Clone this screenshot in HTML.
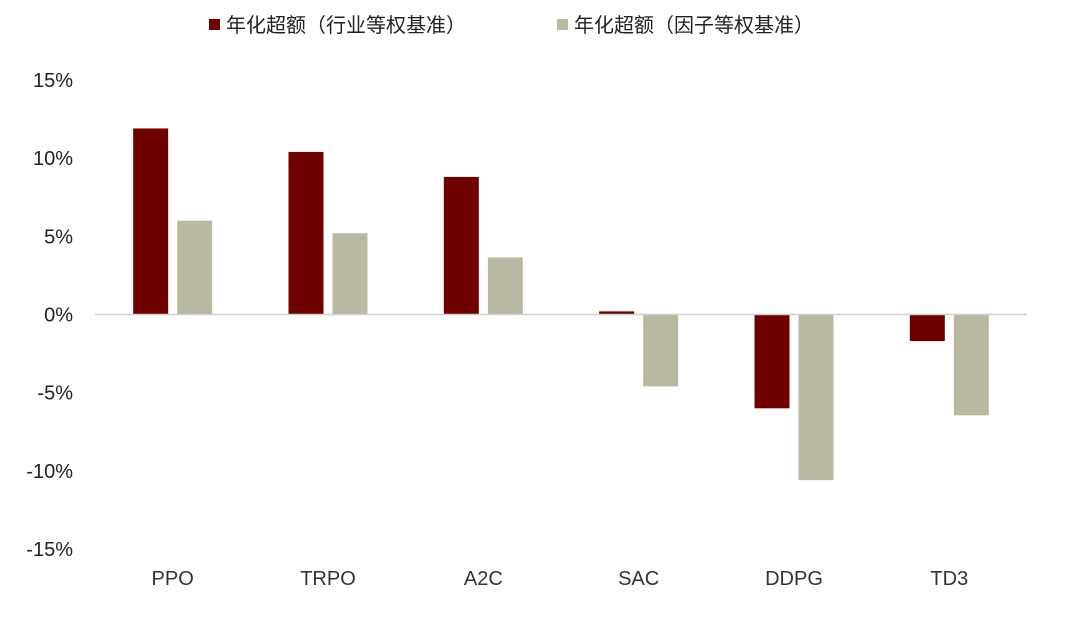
<!DOCTYPE html>
<html><head><meta charset="utf-8"><style>
body{margin:0;background:#fff;}
svg text{font-family:"Liberation Sans","Noto Sans CJK SC",sans-serif;}
</style></head><body>
<svg id="chart" width="1080" height="621" viewBox="0 0 1080 621" xmlns="http://www.w3.org/2000/svg">
<g>
<rect x="209" y="19" width="11" height="11" fill="#6e0000"/>
<text x="226" y="32" font-size="20" fill="#222">年化超额（行业等权基准）</text>
<rect x="557" y="19" width="11" height="11" fill="#b9b8a3"/>
<text x="574" y="32" font-size="20" fill="#222">年化超额（因子等权基准）</text>
</g>
<g id="yaxis"></g>
<g id="bars"></g>
<g id="xaxis"></g>
</svg>
<script>
const categories=["PPO","TRPO","A2C","SAC","DDPG","TD3"];
const industryValues=[11.9,10.4,8.8,0.2,-6.0,-1.7];
const factorValues=[6.0,5.2,3.65,-4.6,-10.6,-6.45];
const yTicks=[15,10,5,0,-5,-10,-15];
const yTickLabels=["15%","10%","5%","0%","-5%","-10%","-15%"];

const NS="http://www.w3.org/2000/svg";
const x0=95,x1=1027,yTop=80,yBot=549,vMax=15,vMin=-15;
const y=v=>yTop+(vMax-v)/(vMax-vMin)*(yBot-yTop);
const band=(x1-x0)/categories.length;
const cx=i=>x0+band*(i+0.5);
function mk(tag,attrs,parent){const e=document.createElementNS(NS,tag);for(const k in attrs)e.setAttribute(k,attrs[k]);parent.appendChild(e);return e;}
const ya=document.getElementById('yaxis'),ba=document.getElementById('bars'),xa=document.getElementById('xaxis');
yTicks.forEach((t,i)=>{
 const e=mk('text',{x:73,y:y(t)+7,'text-anchor':'end','font-size':20,fill:'#222'},ya);
 
 
 e.textContent=yTickLabels[i];
});
const bw=35,gap=9;
categories.forEach((c,i)=>{
 const a=industryValues[i],b=factorValues[i];
 const r1=mk('rect',{x:cx(i)-gap/2-bw,y:Math.min(y(a),y(0)),width:bw,height:Math.abs(y(a)-y(0)),fill:'#6e0000'},ba);
 
 
 const r2=mk('rect',{x:cx(i)+gap/2,y:Math.min(y(b),y(0)),width:bw,height:Math.abs(y(b)-y(0)),fill:'#b9b8a3'},ba);
 
 
 const t=mk('text',{x:cx(i),y:585,'text-anchor':'middle','font-size':20,fill:'#333'},xa);
 
 
 t.textContent=c;
});
const zl=mk('line',{x1:x0,x2:x1,y1:y(0),y2:y(0),stroke:'#d0d0d0','stroke-width':1.5},xa);


</script>
</body></html>
